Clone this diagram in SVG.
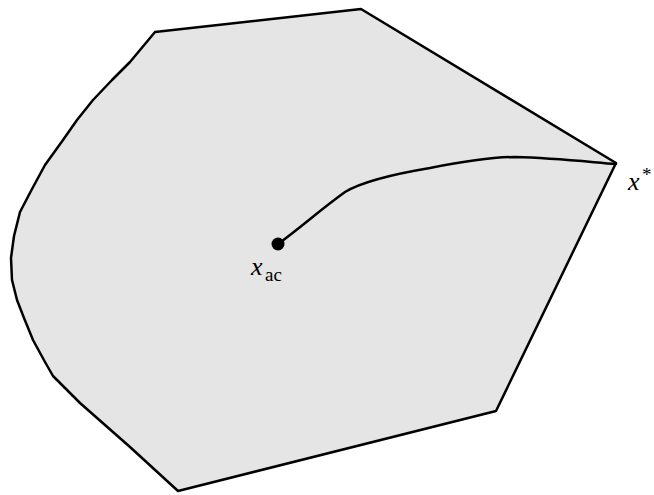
<svg xmlns="http://www.w3.org/2000/svg" width="654" height="495" viewBox="0 0 654 495">
<style>
.region{fill:#e5e5e5;stroke:#000;stroke-width:2.5;stroke-linejoin:round}
.path{fill:none;stroke:#000;stroke-width:2.5;stroke-linecap:round}
text{fill:#000}
</style>
<rect width="654" height="495" fill="#fff"/>
<g id="region">
<path class="region" d="M155,32 L361,9 L616,163 L496,411 L178,491 L130,447 L80,403 L53,376 L45,362 L33,340 L24,318 L17,300 L12,280 L11,258 L14,236 L20,212 L32,189 L45,165 L63,140 L77,120 L93,100 L112,80 L130,62 Z"/>
</g>
<g id="connectors">
<path class="path" d="M278,244 C300,228 320,210 345,192 C365,180 400,173 430,168 C460,162 490,157 515,157 C555,158 590,162 616,164"/>
</g>
<g id="xac">
<circle cx="278" cy="244" r="6.5" fill="#000"/>
<text x="251" y="275" font-size="26" font-style="italic" font-family="Times New Roman, Liberation Serif, DejaVu Serif, serif">x</text>
<text x="265" y="281" font-size="19" font-family="Times New Roman, Liberation Serif, DejaVu Serif, serif">ac</text>
</g>
<g id="xstar">
<text x="628" y="190" font-size="26" font-style="italic" font-family="Times New Roman, Liberation Serif, DejaVu Serif, serif">x</text>
<text x="642" y="181" font-size="19" font-family="Times New Roman, Liberation Serif, DejaVu Serif, serif">*</text>
</g>
</svg>
